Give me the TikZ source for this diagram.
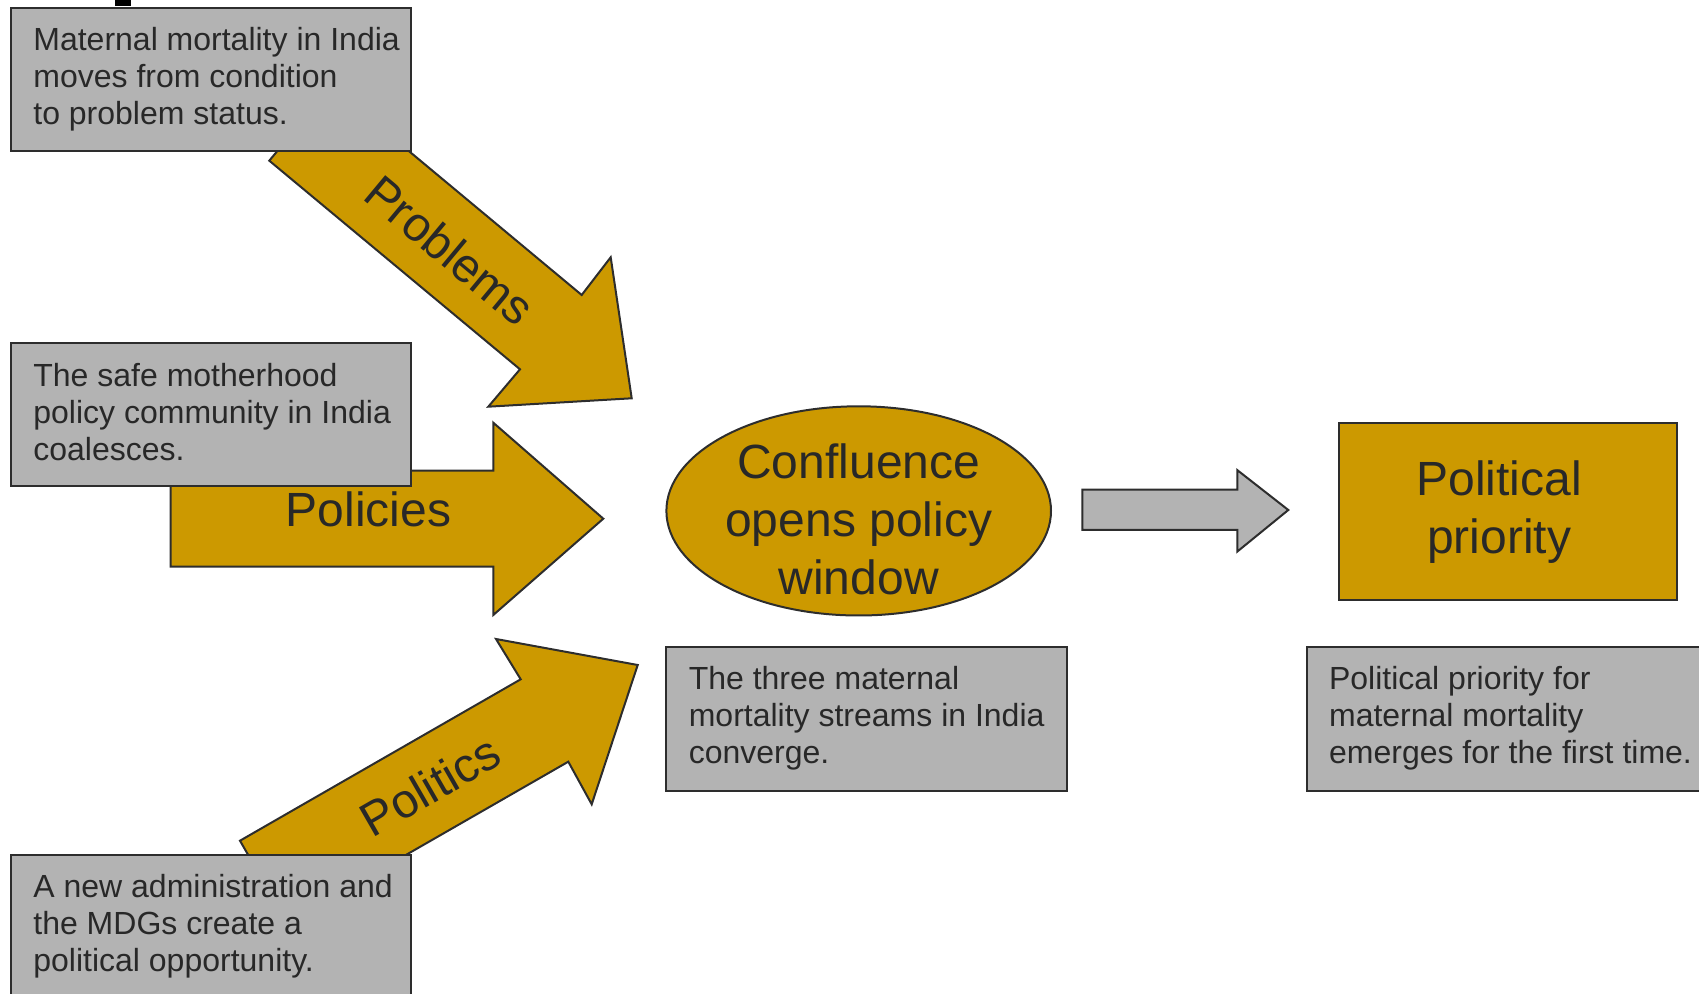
\documentclass[tikz,border=0pt]{standalone}
\usepackage{fontspec}
\setmainfont{Liberation Sans}
\usetikzlibrary{shapes.geometric}
\definecolor{gold}{RGB}{204,153,0}
\definecolor{boxgray}{RGB}{179,179,179}
\definecolor{edge}{RGB}{45,45,45}
\definecolor{ink}{RGB}{40,40,40}

\begin{document}
\begin{tikzpicture}[x=0.5pt,y=-0.5pt,
  outline/.style={draw=edge,line width=1pt,line join=miter},
  goldshape/.style={outline,fill=gold},
  grayshape/.style={outline,fill=boxgray},
  notebox/.style={grayshape,rectangle,anchor=north west,inner sep=0pt,outer sep=0pt},
  note/.style={anchor=north west,inner sep=0pt,align=left,text=ink,
    font=\fontsize{16}{18.5}\selectfont},
  big/.style={inner sep=0pt,text=ink,font=\fontsize{24}{29}\selectfont},
]
\useasboundingbox (0,0) rectangle (1699,994);

% stray mark at the top edge
\fill[black] (115,0) rectangle (131,6);

% ---- Problems stream (block arrow under its note) ----
\draw[goldshape] (269.3,160.7) -- (520,369.3) -- (488.3,406.7) -- (631.7,398.3)
  -- (610.7,257.3) -- (581.7,295) -- (331.2,86.4) -- cycle;
\node[big,rotate=-39.8] (problems) at (450,250) {Problems};

\node[notebox,minimum width=200pt,minimum height=71.7pt] (probnote) at (11,7.6) {};
\node[note] (probtext) at ([shift={(22,16.5)}]probnote.north west)
  {\strut Maternal mortality in India\\moves from condition\\to problem status.};

% ---- Policies stream ----
\draw[goldshape] (170.7,470.7) -- (493.3,470.7) -- (493.3,422.7) -- (603.3,518.7)
  -- (493.3,615) -- (493.3,566.7) -- (170.7,566.7) -- cycle;
\node[big,anchor=base] (policies) at (368.4,527) {Policies};

\node[notebox,minimum width=200pt,minimum height=71.5pt] (polnote) at (11,343.5) {};
\node[note] (poltext) at ([shift={(22,16.5)}]polnote.north west)
  {\strut The safe motherhood\\policy community in India\\coalesces.};

% ---- Politics stream ----
\draw[goldshape] (240,840.7) -- (520.7,679.3) -- (496,639) -- (637.7,665)
  -- (591.7,804.3) -- (568.3,761.7) -- (287.3,923.1) -- cycle;
\node[big,rotate=29.9] (politics) at (430,786) {Politics};

\node[notebox,minimum width=200pt,minimum height=80pt] (politnote) at (11,855) {};
\node[note] (polittext) at ([shift={(22,16.5)}]politnote.north west)
  {\strut A new administration and\\the MDGs create a\\political opportunity.};

% ---- Confluence ----
\node[goldshape,ellipse,minimum width=192.3pt,minimum height=104.6pt,inner sep=0pt]
  (window) at (858.7,510.9) {};
\node[big,align=center,anchor=north] (windowtext) at (858.7,438)
  {\strut Confluence\\opens policy\\window};

\node[notebox,minimum width=200.4pt,minimum height=72.1pt] (convnote) at (666.4,646.8) {};
\node[note] (convtext) at ([shift={(22,16.5)}]convnote.north west)
  {\strut The three maternal\\mortality streams in India\\converge.};

% ---- grey arrow to the outcome ----
\draw[grayshape] (1082.4,489.7) -- (1237.4,489.7) -- (1237.4,470.2) -- (1288.3,510)
  -- (1237.4,551.5) -- (1237.4,529.8) -- (1082.4,529.8) -- cycle;

% ---- Political priority ----
\node[goldshape,rectangle,anchor=north west,inner sep=0pt,
  minimum width=169pt,minimum height=88.25pt] (priority) at (1338,422.5) {};
\node[big,align=center,anchor=north] (prioritytext) at (1499,455)
  {\strut Political\\priority};

\node[notebox,minimum width=210pt,minimum height=72.1pt] (prionote) at (1306.7,646.8) {};
\node[note] (priotext) at ([shift={(22,16.5)}]prionote.north west)
  {\strut Political priority for\\maternal mortality\\emerges for the first time.};
\end{tikzpicture}
\end{document}
